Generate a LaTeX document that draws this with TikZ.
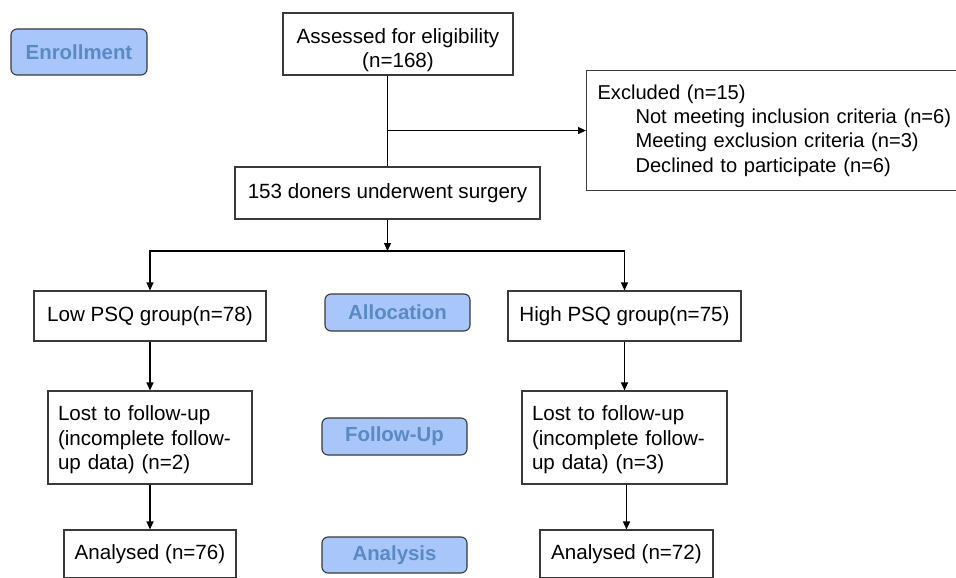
\documentclass[tikz,border=0pt]{standalone}
\usepackage{fontspec}
\setmainfont{Liberation Sans}
\usetikzlibrary{arrows.meta}
\definecolor{btnfill}{HTML}{A8C6FA}
\definecolor{btntext}{HTML}{5A8AC6}
\definecolor{boxline}{HTML}{3A3A3A}
\tikzset{
  box/.style={draw=boxline, line width=1.1pt, rectangle, inner sep=0pt, font=\fontsize{20.6}{24.5}\selectfont},
  plain/.style={inner sep=0pt, font=\fontsize{20.6}{24.5}\selectfont},
  btn/.style={draw=boxline, line width=1.1pt, rounded corners=6pt, fill=btnfill, text=btntext, inner sep=0pt, font=\fontsize{20.4}{24}\selectfont\bfseries},
  arr/.style={line width=1.2pt, -{Triangle[length=8pt,width=7pt]}},
  ln/.style={line width=1.2pt}
}
\begin{document}
\begin{tikzpicture}[x=1pt,y=-1pt]
\useasboundingbox (0,0) rectangle (956,578);
\clip (0,0) rectangle (956,578);
\fill[white] (0,0) rectangle (956,578);
% phase buttons
\node[btn, minimum width=136pt, minimum height=46pt] (enr) at (79,52) {Enrollment};
\node[btn, minimum width=145pt, minimum height=37pt] (alloc) at (397.5,312.5) {Allocation};
\node[btn, minimum width=145pt, minimum height=37pt] (fu) at (394.5,436.5) {Follow-Up};
\node[btn, minimum width=145pt, minimum height=36pt] (ana) at (394.5,555) {Analysis};
% boxes
\node[box, minimum width=230pt, minimum height=62pt] (assess) at (398,44) {};
\node[plain, align=center] (assesstxt) at (398,50) {Assessed for eligibility\\(n=168)};
\node[box, minimum width=305pt, minimum height=52pt] (surg) at (387.5,193) {153 doners underwent surgery};
\node[box, anchor=north west, minimum height=120pt, text width=362pt, inner xsep=11pt, align=left, font=\fontsize{20.1}{24.3}\selectfont] (excl) at (586,70) {Excluded (n=15)\\\hspace*{38pt}Not meeting inclusion criteria (n=6)\\\hspace*{38pt}Meeting exclusion criteria (n=3)\\\hspace*{38pt}Declined to participate (n=6)};
\node[box, minimum width=232pt, minimum height=50pt] (low) at (150,316) {Low PSQ group(n=78)};
\node[box, minimum width=233pt, minimum height=50pt] (high) at (624.5,316) {High PSQ group(n=75)};
\node[box, minimum width=204pt, minimum height=93pt] (lostl) at (150,437.5) {};
\node[plain, text width=184pt, align=left] (lostltxt) at (150,440) {Lost to follow-up\\(incomplete follow-\\up data) (n=2)};
\node[box, minimum width=205pt, minimum height=93pt] (losth) at (624.5,437.5) {};
\node[plain, text width=185pt, align=left] (losthtxt) at (624.5,440) {Lost to follow-up\\(incomplete follow-\\up data) (n=3)};
\node[box, minimum width=172pt, minimum height=48pt] (anal) at (150,554) {Analysed (n=76)};
\node[box, minimum width=173pt, minimum height=48pt] (anah) at (626.5,554) {Analysed (n=72)};
% connectors
\draw[ln] (surg.north |- assess.south) -- (surg.north);
\draw[arr] (surg.north |- excl.west) -- (excl.west);
\coordinate (split) at (387.5,251);
\draw[arr] (surg.south) -- (split);
\draw[arr] (split) -| (low.north);
\draw[arr] (split) -| (high.north);
\draw[arr] (low.south) -- (lostl.north);
\draw[arr] (high.south) -- (losth.north);
\draw[arr] (lostl.south) -- (anal.north);
\draw[arr] (losth.south -| anah.north) -- (anah.north);
\end{tikzpicture}
\end{document}
